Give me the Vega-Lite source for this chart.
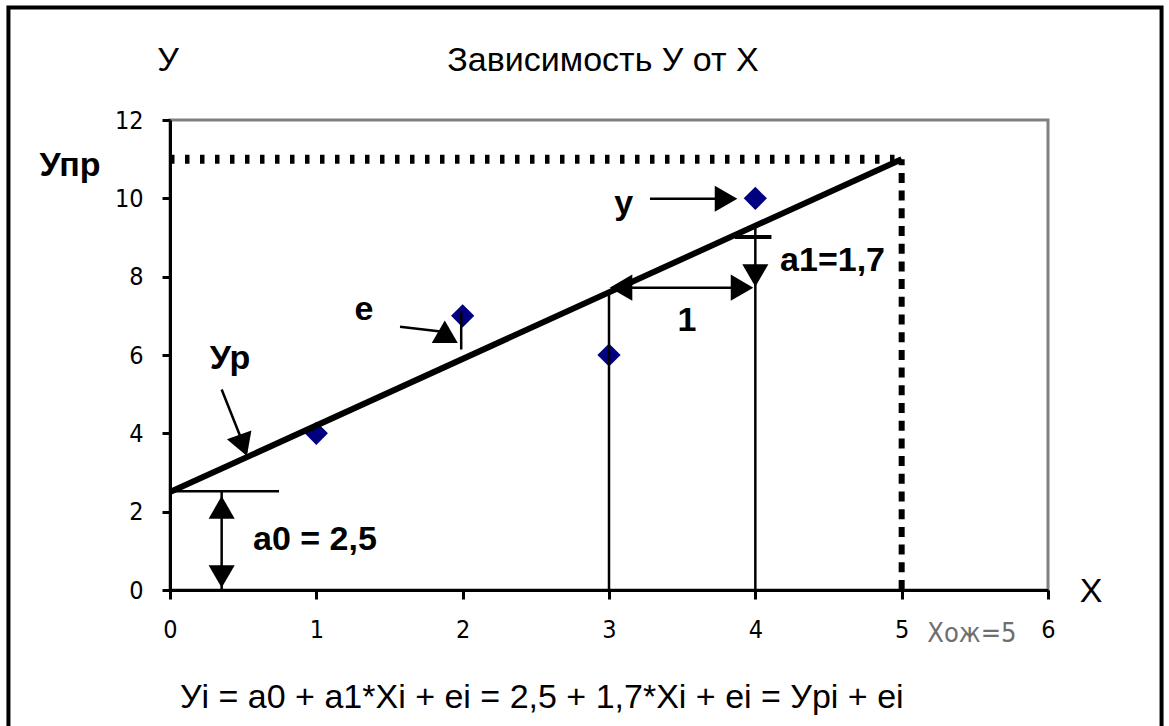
{
  "$schema": "https://vega.github.io/schema/vega-lite/v6.json",
  "width": 878,
  "height": 470,
  "autosize": "none",
  "padding": {"left": 170, "top": 120, "right": 121, "bottom": 136},
  "background": "white",
  "config": {
    "view": {"stroke": "#808080", "strokeWidth": 3},
    "font": "Liberation Sans"
  },
  "encoding": {
    "x": {
      "field": "x", "type": "quantitative",
      "scale": {"domain": [0, 6], "nice": false, "zero": false},
      "axis": {
        "values": [0, 1, 2, 3, 4, 5, 6], "format": "d", "title": null, "grid": false,
        "domainColor": "black", "domainWidth": 3, "tickColor": "black", "tickWidth": 3, "tickSize": 9,
        "labelFont": "Liberation Sans Narrow, DejaVu Sans Condensed, Liberation Sans", "labelFontSize": 25,
        "labelColor": "black", "labelPadding": 18, "labelFlush": false, "labelOverlap": false
      }
    },
    "y": {
      "field": "y", "type": "quantitative",
      "scale": {"domain": [0, 12], "nice": false, "zero": false},
      "axis": {
        "values": [0, 2, 4, 6, 8, 10, 12], "format": "d", "title": null, "grid": false,
        "domainColor": "black", "domainWidth": 3, "tickColor": "black", "tickWidth": 3, "tickSize": 8,
        "labelFont": "Liberation Sans Narrow, DejaVu Sans Condensed, Liberation Sans", "labelFontSize": 25,
        "labelColor": "black", "labelPadding": 19, "labelFlush": false, "labelOverlap": false
      }
    }
  },
  "layer": [
    {
      "data": {"values": [{"x": -1.104, "x2": 6.776, "y": 14.87, "y2": -5}]},
      "mark": {"type": "rect", "fill": null, "fillOpacity": 0, "stroke": "black", "strokeWidth": 4},
      "encoding": {"x2": {"field": "x2"}, "y2": {"field": "y2"}}
    },
    {
      "data": {"values": [{"x": 0, "x2": 5, "y": 11}]},
      "mark": {"type": "rule", "color": "black", "strokeWidth": 9, "strokeDash": [4.5, 10.5], "strokeCap": "butt"},
      "encoding": {"x2": {"field": "x2"}}
    },
    {
      "data": {"values": [{"x": 5, "y": 0, "y2": 11}]},
      "mark": {"type": "rule", "color": "black", "strokeWidth": 6, "strokeDash": [10, 7.7], "strokeCap": "butt"},
      "encoding": {"y2": {"field": "y2"}}
    },
    {
      "data": {"values": [{"x": 1, "y": 4}, {"x": 2, "y": 7}, {"x": 3, "y": 6}, {"x": 4, "y": 10}]},
      "mark": {"type": "point", "shape": "diamond", "filled": true, "color": "#000080", "size": 540, "opacity": 1}
    },
    {
      "data": {"values": [{"x": 0, "y": 2.5}, {"x": 5, "y": 11}]},
      "mark": {"type": "line", "color": "black", "strokeWidth": 6}
    },
    {
      "data": {"values": [
        {"x": 3, "y": 0, "y2": 7.6},
        {"x": 4, "y": 0, "y2": 9.3},
        {"x": 0.353, "y": 0, "y2": 2.52},
        {"x": 1.99, "y": 6.14, "y2": 7.12}
      ]},
      "mark": {"type": "rule", "color": "black", "strokeWidth": 2.5},
      "encoding": {"y2": {"field": "y2"}}
    },
    {
      "data": {"values": [
        {"x": 0, "x2": 0.745, "y": 2.52},
        {"x": 3.02, "x2": 3.96, "y": 7.72},
        {"x": 3.28, "x2": 3.82, "y": 9.99}
      ]},
      "mark": {"type": "rule", "color": "black", "strokeWidth": 2.5},
      "encoding": {"x2": {"field": "x2"}}
    },
    {
      "data": {"values": [{"x": 3.86, "x2": 4.11, "y": 9.01}]},
      "mark": {"type": "rule", "color": "black", "strokeWidth": 4},
      "encoding": {"x2": {"field": "x2"}}
    },
    {
      "data": {"values": [
        {"g": "a", "x": 0.353, "y": 5.12}, {"g": "a", "x": 0.524, "y": 3.51},
        {"g": "b", "x": 1.572, "y": 6.72}, {"g": "b", "x": 1.85, "y": 6.6}
      ]},
      "mark": {"type": "line", "color": "black", "strokeWidth": 2.5},
      "encoding": {"detail": {"field": "g"}}
    },
    {
      "data": {"values": [
        {"x": 0.353, "y": 2.11, "dir": "up"},
        {"x": 0.353, "y": 0.345, "dir": "down"},
        {"x": 3.082, "y": 7.72, "dir": "left"},
        {"x": 3.909, "y": 7.72, "dir": "right"},
        {"x": 4, "y": 8.03, "dir": "down"},
        {"x": 3.8, "y": 9.99, "dir": "right"}
      ]},
      "mark": {"type": "point", "filled": true, "color": "black", "size": 680, "opacity": 1},
      "encoding": {
        "shape": {"field": "dir", "type": "nominal",
          "scale": {"domain": ["up", "down", "left", "right"], "range": ["triangle-up", "triangle-down", "triangle-left", "triangle-right"]},
          "legend": null}
      }
    },
    {
      "data": {"values": [{"x": 0.499, "y": 3.69}]},
      "mark": {"type": "point", "shape": "triangle-down", "angle": -20, "filled": true, "color": "black", "size": 680, "opacity": 1}
    },
    {
      "data": {"values": [{"x": 1.9, "y": 6.45}]},
      "mark": {"type": "point", "shape": "triangle-right", "angle": 30, "filled": true, "color": "black", "size": 680, "opacity": 1}
    },
    {
      "data": {"values": [
        {"x": 2.959, "y": 13.24, "t": "Зависимость У от Х"},
        {"x": -0.014, "y": 13.24, "t": "У"},
        {"x": 6.294, "y": -0.319, "t": "Х"}
      ]},
      "mark": {"type": "text", "font": "Liberation Sans", "fontSize": 34, "align": "center", "baseline": "alphabetic", "color": "black"},
      "encoding": {"text": {"field": "t"}}
    },
    {
      "data": {"values": [{"x": 0.068, "y": -3.0, "t": "Уi = a0 + a1*Xi + ei = 2,5 + 1,7*Xi + ei = Уpi + ei"}]},
      "mark": {"type": "text", "font": "Liberation Sans", "fontSize": 34, "align": "left", "baseline": "alphabetic", "color": "black"},
      "encoding": {"text": {"field": "t"}}
    },
    {
      "data": {"values": [
        {"x": -0.683, "y": 10.57, "t": "Упр"},
        {"x": 3.1, "y": 9.6, "t": "у"},
        {"x": 1.326, "y": 6.906, "t": "e"},
        {"x": 0.41, "y": 5.63, "t": "Ур"},
        {"x": 3.533, "y": 6.62, "t": "1"}
      ]},
      "mark": {"type": "text", "font": "Liberation Sans", "fontSize": 34, "fontWeight": "bold", "align": "center", "baseline": "alphabetic", "color": "black"},
      "encoding": {"text": {"field": "t"}}
    },
    {
      "data": {"values": [
        {"x": 0.567, "y": 1.034, "t": "a0 = 2,5"},
        {"x": 4.169, "y": 8.14, "t": "a1=1,7"}
      ]},
      "mark": {"type": "text", "font": "Liberation Sans", "fontSize": 34, "fontWeight": "bold", "align": "left", "baseline": "alphabetic", "color": "black"},
      "encoding": {"text": {"field": "t"}}
    },
    {
      "data": {"values": [{"x": 5.48, "y": -1.34, "t": "Хож=5"}]},
      "mark": {"type": "text", "font": "Liberation Sans Narrow, DejaVu Sans Condensed, Liberation Sans", "fontSize": 27, "align": "center", "baseline": "alphabetic", "color": "#6e6e6e"},
      "encoding": {"text": {"field": "t"}}
    }
  ]
}
